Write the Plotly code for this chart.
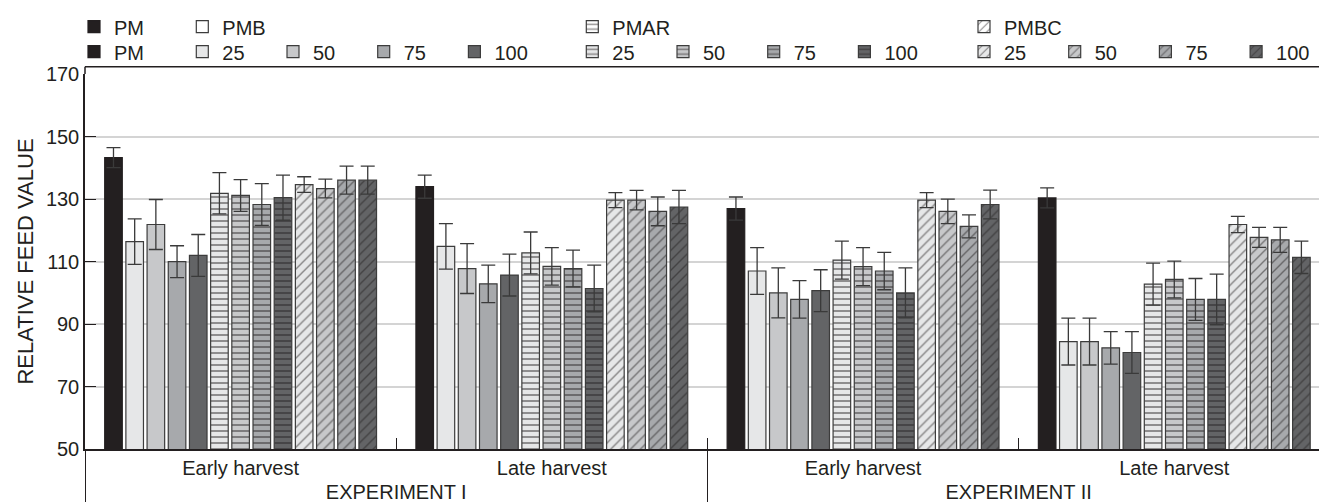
import plotly.graph_objects as go

# ---- data ----
experiments = ["EXPERIMENT I", "EXPERIMENT I", "EXPERIMENT II", "EXPERIMENT II"]
harvests = ["Early harvest", "Late harvest", "Early harvest", "Late harvest"]

series_names = ["PM", "25", "50", "75", "100", "25", "50", "75", "100", "25", "50", "75", "100"]
series_groups = ["PM", "PMB", "PMB", "PMB", "PMB", "PMAR", "PMAR", "PMAR", "PMAR",
                 "PMBC", "PMBC", "PMBC", "PMBC"]

PM = [143.3, 134.0, 127.0, 130.4]
PMB25 = [116.4, 114.9, 107.0, 84.4]
PMB50 = [121.9, 107.8, 100.0, 84.4]
PMB75 = [110.0, 102.9, 97.9, 82.4]
PMB100 = [112.0, 105.7, 100.7, 80.9]
PMAR25 = [131.9, 112.8, 110.5, 102.8]
PMAR50 = [131.2, 108.5, 108.4, 104.3]
PMAR75 = [128.3, 107.8, 107.0, 97.9]
PMAR100 = [130.5, 101.4, 100.0, 97.9]
PMBC25 = [134.7, 129.7, 129.7, 121.9]
PMBC50 = [133.4, 129.7, 126.1, 117.8]
PMBC75 = [136.1, 126.1, 121.3, 117.0]
PMBC100 = [136.1, 127.5, 128.3, 111.4]

PM_err = [3.2, 3.7, 3.7, 3.2]
PMB25_err = [7.3, 7.3, 7.5, 7.5]
PMB50_err = [8.0, 8.0, 8.0, 7.5]
PMB75_err = [5.1, 6.0, 6.0, 5.2]
PMB100_err = [6.7, 6.7, 6.7, 6.7]
PMAR25_err = [6.6, 6.7, 6.1, 6.7]
PMAR50_err = [5.1, 6.0, 6.1, 5.9]
PMAR75_err = [6.7, 5.9, 6.0, 6.7]
PMAR100_err = [7.2, 7.5, 8.0, 8.1]
PMBC25_err = [2.5, 2.4, 2.4, 2.6]
PMBC50_err = [3.0, 3.1, 3.9, 3.2]
PMBC75_err = [4.5, 4.6, 3.7, 4.0]
PMBC100_err = [4.5, 5.3, 4.6, 5.2]

values = [PM, PMB25, PMB50, PMB75, PMB100, PMAR25, PMAR50, PMAR75, PMAR100,
          PMBC25, PMBC50, PMBC75, PMBC100]
errors = [PM_err, PMB25_err, PMB50_err, PMB75_err, PMB100_err, PMAR25_err, PMAR50_err,
          PMAR75_err, PMAR100_err, PMBC25_err, PMBC50_err, PMBC75_err, PMBC100_err]

header_names = ["PM", "PMB", "PMAR", "PMBC"]
y_ticks = [50, 70, 90, 110, 130, 150, 170]

# ---- styles ----
BLACK = "#231f20"
greys = ["#e6e7e8", "#c7c8ca", "#a7a9ac", "#636466"]
FONT = "Liberation Sans, Arial, sans-serif"
FS = 20
W, H = 1319, 502
T_MARGIN, B_MARGIN = 74, 52.7
FRAME_TOP = 66.7  # px from top where the frame line sits
plot_h = H - T_MARGIN - B_MARGIN

fills = [BLACK] + greys * 3
shapes_pat = [""] + [""] * 4 + ["-"] * 4 + ["/"] * 4
legend_ids = ["legend5", "legend6", "legend6", "legend6", "legend6",
              "legend7", "legend7", "legend7", "legend7",
              "legend8", "legend8", "legend8", "legend8"]


def pattern_for(p):
    if p == "-":
        return dict(shape="-", fgcolor=BLACK, size=6, solidity=0.3, fillmode="overlay")
    if p == "/":
        return dict(shape="/", fgcolor=BLACK, size=7, solidity=0.2, fillmode="overlay")
    return dict(shape="")


fig = go.Figure()
for i, (name, vals, errs) in enumerate(zip(series_names, values, errors)):
    fig.add_trace(go.Bar(
        x=[experiments, harvests], y=vals, name=name,
        legend=legend_ids[i],
        marker=dict(color=fills[i], pattern=pattern_for(shapes_pat[i]),
                    line=dict(color=BLACK if i == 0 else "#3c3c3c", width=1.2)),
        error_y=dict(type="data", array=errs, visible=True, color="#3a3a3a",
                     thickness=1.3, width=7),
        hoverinfo="skip",
    ))

# header legend entries (on hidden axes)
header_fill = [BLACK, "white", "white", "white"]
header_pat = ["", "", "-", "/"]
header_legends = ["legend", "legend2", "legend3", "legend4"]
for name, fc, hp, lgid in zip(header_names, header_fill, header_pat, header_legends):
    fig.add_trace(go.Bar(x=["h"], y=[0], name=name, legend=lgid,
                         marker=dict(color=fc, pattern=pattern_for(hp),
                                     line=dict(color=BLACK if fc == BLACK else "#3c3c3c", width=1.2)),
                         xaxis="x2", yaxis="y2", hoverinfo="skip"))

row1_y = 1 - 26.7 / H
row2_y = 1 - 51.7 / H


def lg(xpx, ypos, ew):
    return dict(orientation="h", xref="container", yref="container",
                xanchor="left", yanchor="middle", bgcolor="rgba(0,0,0,0)",
                borderwidth=0, font=dict(family=FONT, size=FS, color=BLACK),
                entrywidthmode="pixels", entrywidth=ew, traceorder="normal",
                itemclick=False, itemdoubleclick=False,
                x=xpx / W, y=ypos)


frame_y = 1 + (T_MARGIN - FRAME_TOP) / plot_h

fig.update_layout(
    width=W, height=H,
    margin=dict(l=85, r=0, t=T_MARGIN, b=B_MARGIN),
    paper_bgcolor="white", plot_bgcolor="white",
    font=dict(family=FONT, size=FS, color=BLACK),
    barmode="group", bargap=0.115, bargroupgap=0.17,
    legend=lg(74, row1_y, 0),
    legend2=lg(182.3, row1_y, 0),
    legend3=lg(572.3, row1_y, 0),
    legend4=lg(964, row1_y, 0),
    legend5=lg(74, row2_y, 45.7),
    legend6=lg(182.3, row2_y, 45.7),
    legend7=lg(572.3, row2_y, 45.7),
    legend8=lg(964, row2_y, 45.7),
    xaxis=dict(
        type="multicategory", range=[-0.5, 3.465], automargin=False,
        showline=True, linecolor=BLACK, linewidth=1.5, mirror=False,
        ticks="inside", ticklen=11, tickcolor=BLACK, tickwidth=1.2,
        showdividers=True, dividercolor=BLACK, dividerwidth=1.2,
        tickfont=dict(family=FONT, size=20, color=BLACK),
        showgrid=False,
    ),
    yaxis=dict(
        range=[50, 170.1], tickvals=y_ticks, automargin=False,
        showline=True, linecolor=BLACK, linewidth=1.5,
        ticks="inside", ticklen=11, tickcolor=BLACK, tickwidth=1.2,
        showgrid=True, gridcolor="#d4d4d4", gridwidth=1.5,
        zeroline=False,
        tickfont=dict(family=FONT, size=FS, color=BLACK),
        title=dict(text="RELATIVE FEED VALUE", font=dict(family=FONT, size=22, color=BLACK),
                   standoff=6),
    ),
    xaxis2=dict(visible=False, overlaying="x", anchor="y2", range=[5, 6]),
    yaxis2=dict(visible=False, overlaying="y", anchor="x2", range=[10, 20]),
    showlegend=True,
    shapes=[
        dict(type="line", xref="paper", yref="paper", x0=0, x1=1, y0=frame_y, y1=frame_y,
             line=dict(color=BLACK, width=1.5)),
        dict(type="line", xref="paper", yref="paper", x0=0, x1=0, y0=1, y1=frame_y,
             line=dict(color=BLACK, width=1.5)),
    ],
)

fig.write_html("out.html", config={"displayModeBar": False},
               post_script="document.body.style.margin='0';document.body.style.overflow='hidden';")
